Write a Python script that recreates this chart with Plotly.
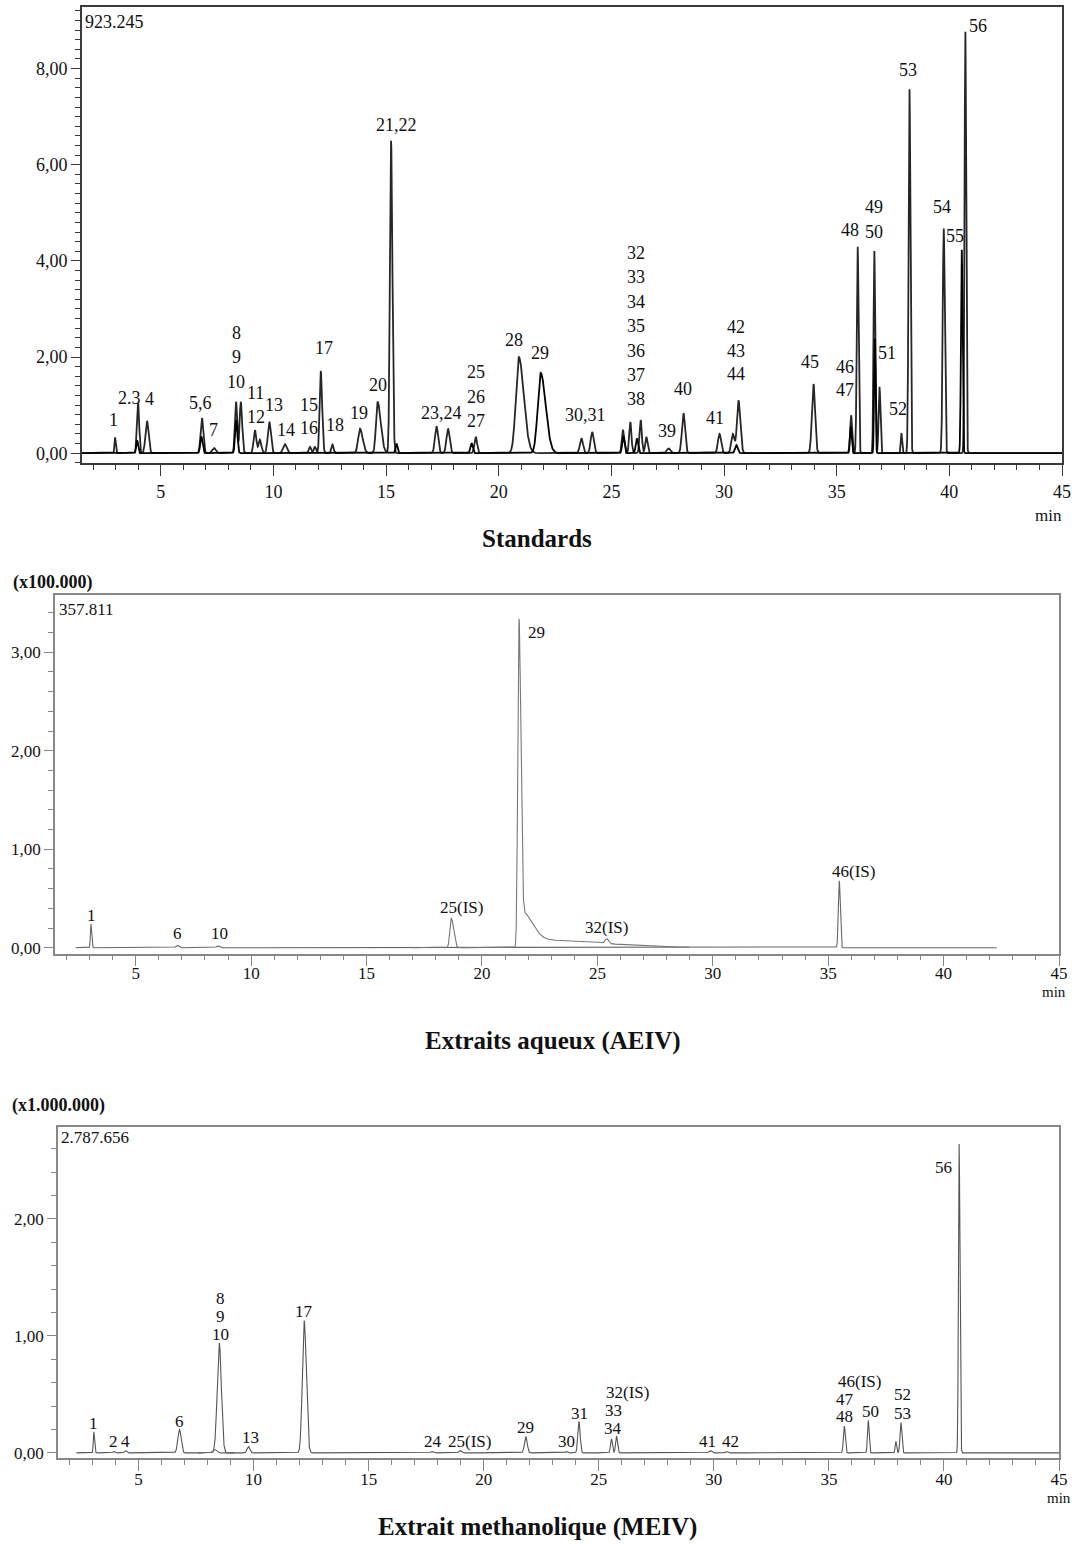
import numpy as np
import plotly.graph_objects as go

# Target picture size, and the figure size in page pixels
REF_W, REF_H = 1075, 1544
W, H = 1083, 1550

# ---------------- DATA ----------------
x_tick_vals = [5, 10, 15, 20, 25, 30, 35, 40, 45]

# Standards (x100.000): retention time (min), height, left/right width, trace id
std_rt = [2.97, 3.99, 3.95, 4.39, 6.83, 6.80, 7.36, 8.34, 8.55, 8.35, 9.18, 9.40, 9.82, 10.51,
          11.62, 11.84, 12.10, 12.62, 13.84, 14.62, 15.22, 15.46, 17.24, 17.75, 18.79, 18.98,
          20.89, 21.86, 23.67, 24.15, 25.51, 25.53, 25.84, 26.13, 26.30, 26.55, 27.54, 28.20,
          29.80, 30.39, 30.64, 30.55, 33.97, 35.64, 35.62, 35.93, 36.67, 36.69, 36.90, 37.87,
          38.23, 39.75, 40.55, 40.71]
std_h = [0.33, 1.05, 0.27, 0.67, 0.73, 0.35, 0.11, 1.07, 1.07, 0.69, 0.48, 0.28, 0.65, 0.19,
         0.13, 0.13, 1.71, 0.18, 0.51, 1.07, 6.50, 0.20, 0.56, 0.51, 0.21, 0.34,
         2.00, 1.67, 0.31, 0.44, 0.49, 0.35, 0.65, 0.31, 0.69, 0.34, 0.10, 0.83,
         0.40, 0.40, 1.10, 0.17, 1.44, 0.79, 0.55, 4.30, 4.21, 2.39, 1.38, 0.42,
         7.58, 4.68, 4.24, 8.78]
std_wl = [0.025, 0.05, 0.04, 0.07, 0.06, 0.05, 0.08, 0.05, 0.05, 0.05, 0.06, 0.06, 0.07, 0.08,
          0.05, 0.05, 0.05, 0.05, 0.08, 0.07, 0.05, 0.04, 0.07, 0.07, 0.05, 0.06,
          0.13, 0.13, 0.07, 0.07, 0.05, 0.05, 0.05, 0.05, 0.05, 0.05, 0.08, 0.07,
          0.07, 0.07, 0.07, 0.06, 0.07, 0.04, 0.04, 0.04, 0.035, 0.03, 0.04, 0.03,
          0.04, 0.045, 0.035, 0.035]
std_wr = [0.03, 0.05, 0.04, 0.07, 0.06, 0.05, 0.08, 0.05, 0.06, 0.05, 0.06, 0.06, 0.07, 0.08,
          0.05, 0.05, 0.06, 0.05, 0.12, 0.14, 0.06, 0.04, 0.07, 0.07, 0.05, 0.06,
          0.22, 0.22, 0.07, 0.07, 0.05, 0.05, 0.05, 0.05, 0.05, 0.05, 0.08, 0.07,
          0.07, 0.07, 0.08, 0.06, 0.07, 0.04, 0.04, 0.04, 0.035, 0.03, 0.04, 0.03,
          0.04, 0.045, 0.035, 0.035]
std_tr = [0, 0, 1, 0, 0, 1, 0, 0, 0, 1, 0, 0, 0, 0,
          0, 0, 0, 0, 0, 0, 0, 1, 0, 0, 1, 0,
          0, 1, 0, 0, 0, 1, 0, 1, 0, 0, 0, 0,
          0, 0, 0, 1, 0, 0, 1, 0, 0, 1, 0, 0,
          0, 0, 1, 0]

std_lbl = ["1", "2.3", "4", "5,6", "7", "8", "9", "10", "11", "12", "13", "14", "15", "16",
           "17", "18", "19", "20", "21,22", "23,24", "25", "26", "27", "28", "29", "30,31",
           "32", "33", "34", "35", "36", "37", "38", "39", "40", "41", "42", "43", "44",
           "45", "46", "47", "48", "49", "50", "51", "52", "53", "54", "55", "56"]
std_lbl_x = [2.88, 3.62, 4.50, 6.78, 7.36, 8.34, 8.34, 8.34, 9.22, 9.22, 10.02, 10.55, 11.57, 11.57,
             12.24, 12.73, 13.79, 14.63, 15.48, 17.47, 18.98, 18.98, 18.98, 20.67, 21.82, 23.86,
             26.10, 26.10, 26.10, 26.10, 26.10, 26.10, 26.10, 27.45, 28.16, 29.62, 30.55, 30.55, 30.55,
             33.82, 35.37, 35.37, 35.57, 36.64, 36.64, 37.25, 37.74, 38.15, 39.68, 40.27, 41.26]
std_lbl_y = [0.69, 1.15, 1.12, 1.04, 0.48, 2.50, 2.00, 1.48, 1.25, 0.75, 1.00, 0.48, 1.00, 0.52,
             2.19, 0.58, 0.83, 1.42, 6.83, 0.83, 1.69, 1.17, 0.67, 2.35, 2.08, 0.79,
             4.17, 3.67, 3.15, 2.65, 2.13, 1.63, 1.13, 0.46, 1.33, 0.73, 2.63, 2.13, 1.65,
             1.90, 1.80, 1.31, 4.65, 5.13, 4.61, 2.08, 0.92, 7.96, 5.12, 4.51, 8.88]

# Extraits aqueux AEIV (x100.000)
aq_rt = [3.06, 6.80, 8.56, 35.48, 18.67, 21.60, 21.70, 22.00, 25.41]
aq_h = [0.24, 0.025, 0.02, 0.68, 0.30, 3.25, 0.30, 0.08, 0.05]
aq_wl = [0.025, 0.06, 0.06, 0.04, 0.06, 0.05, 0.06, 0.20, 0.08]
aq_wr = [0.03, 0.06, 0.06, 0.04, 0.10, 0.08, 0.45, 3.00, 0.08]
aq_tr = [0, 0, 0, 0, 1, 1, 1, 1, 1]

aq_lbl = ["1", "6", "10", "25(IS)", "29", "32(IS)", "46(IS)"]
aq_lbl_x = [3.09, 6.80, 8.63, 19.10, 22.38, 25.41, 36.09]
aq_lbl_y = [0.325, 0.14, 0.14, 0.41, 3.20, 0.21, 0.77]

# Extrait methanolique MEIV (x1.000.000)
me_rt = [3.06, 3.93, 4.44, 6.78, 8.51, 8.30, 9.78, 12.20, 17.75, 18.97, 21.83, 23.60, 24.14,
         25.55, 25.77, 29.85, 30.54, 35.67, 35.58, 36.71, 37.91, 38.13, 40.66]
me_h = [0.18, 0.012, 0.02, 0.20, 0.94, 0.03, 0.054, 1.13, 0.012, 0.02, 0.14, 0.012, 0.27,
        0.12, 0.145, 0.02, 0.012, 0.23, 0.04, 0.28, 0.10, 0.26, 2.64]
me_wl = [0.025, 0.05, 0.05, 0.07, 0.09, 0.08, 0.06, 0.08, 0.06, 0.06, 0.06, 0.05, 0.05,
         0.04, 0.04, 0.06, 0.06, 0.04, 0.04, 0.035, 0.03, 0.04, 0.03]
me_wr = [0.03, 0.05, 0.05, 0.07, 0.09, 0.08, 0.06, 0.09, 0.06, 0.06, 0.06, 0.05, 0.05,
         0.04, 0.04, 0.06, 0.06, 0.04, 0.04, 0.035, 0.03, 0.04, 0.035]
me_tr = [0, 0, 0, 0, 0, 1, 0, 0, 0, 0, 0, 0, 0,
         0, 0, 0, 0, 0, 1, 0, 0, 0, 0]

me_lbl = ["1", "2", "4", "6", "8", "9", "10", "13", "17", "24", "25(IS)", "29", "30", "31",
          "32(IS)", "33", "34", "41", "42", "46(IS)", "47", "48", "50", "52", "53", "56"]
me_lbl_x = [3.06, 3.90, 4.44, 6.79, 8.57, 8.57, 8.57, 9.86, 12.20, 17.80, 19.40, 21.83, 23.60, 24.18,
            26.27, 25.62, 25.62, 29.74, 30.71, 36.32, 35.70, 35.70, 36.83, 38.20, 38.20, 39.97]
me_lbl_y = [0.25, 0.10, 0.10, 0.27, 1.32, 1.17, 1.01, 0.13, 1.21, 0.10, 0.10, 0.22, 0.10, 0.34,
            0.52, 0.36, 0.21, 0.10, 0.10, 0.61, 0.46, 0.31, 0.35, 0.50, 0.34, 2.44]


# ---------------- HELPERS ----------------
def chrom(x, rts, hs, wls, wrs):
    y = np.zeros_like(x)
    for rt, h, wl, wr in zip(rts, hs, wls, wrs):
        s = np.where(x < rt, wl, wr)
        y += h * np.exp(-0.5 * ((x - rt) / s) ** 2)
    return y


def sel(vals, trs, k):
    return [v for v, t in zip(vals, trs) if t == k]


def px_x(p):
    return p / REF_W


def px_y(p):
    return 1 - p / REF_H


FONT = "Liberation Serif, Times New Roman, serif"

fig = go.Figure()

# panel geometry (picture pixels)
panels = [
    dict(left=82, right=1063, top=7, bottom=463, yr=[-0.21, 9.28], lw=1.8,
         colors=["#262626", "#000000"], fs=18, tfs=18, lc="#3a3a3a", so=0),
    dict(left=55, right=1060, top=595, bottom=953, yr=[-0.06, 3.578], lw=1.1,
         colors=["#666666", "#777777"], fs=17, tfs=17, lc="#888888", so=-8),
    dict(left=58, right=1060, top=1126, bottom=1457, yr=[-0.043, 2.7877], lw=1.1,
         colors=["#555555", "#666666"], fs=17, tfs=17, lc="#888888", so=-6),
]

segments = [
    [(1.5, 45.0), (1.5, 45.0)],
    [(2.4, 42.3), (17.0, 29.0)],
    [(2.3, 45.0), (7.6, 9.2)],
]

datasets = [
    (std_rt, std_h, std_wl, std_wr, std_tr),
    (aq_rt, aq_h, aq_wl, aq_wr, aq_tr),
    (me_rt, me_h, me_wl, me_wr, me_tr),
]

labels = [
    (std_lbl, std_lbl_x, std_lbl_y),
    (aq_lbl, aq_lbl_x, aq_lbl_y),
    (me_lbl, me_lbl_x, me_lbl_y),
]

annotations = []
layout_axes = {}
for i, (pn, ds, seg, lb) in enumerate(zip(panels, datasets, segments, labels)):
    sfx = "" if i == 0 else str(i + 1)
    xref, yref = "x" + sfx, "y" + sfx
    rts, hs, wls, wrs, trs = ds
    for k in (0, 1):
        x0, x1 = seg[k]
        xs = np.arange(x0, x1, 0.004)
        ys = chrom(xs, sel(rts, trs, k), sel(hs, trs, k), sel(wls, trs, k), sel(wrs, trs, k))
        fig.add_trace(go.Scatter(x=xs, y=ys, mode="lines", xaxis=xref, yaxis=yref,
                                 line=dict(color=pn["colors"][k], width=pn["lw"]),
                                 hoverinfo="skip", showlegend=False))
    for t, lx, ly in zip(*lb):
        annotations.append(dict(text=t, x=lx, y=ly, xref=xref, yref=yref, showarrow=False,
                                xanchor="center", yanchor="middle",
                                font=dict(family=FONT, size=pn["fs"], color="#111111")))
    layout_axes["xaxis" + sfx] = dict(
        domain=[px_x(pn["left"]), px_x(pn["right"])], range=[1.5, 45.0],
        anchor=yref, tickvals=x_tick_vals, ticks="outside", ticklen=11, tickwidth=1.3,
        tickcolor=pn["lc"], showline=True, linecolor=pn["lc"], linewidth=1.6, mirror=True,
        showgrid=False, zeroline=False, ticklabelstandoff=pn["so"],
        minor=dict(dtick=1, tick0=0, ticks="outside", ticklen=5, tickcolor=pn["lc"], tickwidth=1.2),
        tickfont=dict(family=FONT, size=pn["tfs"], color="#111111"))
    layout_axes["yaxis" + sfx] = dict(
        domain=[px_y(pn["bottom"]), px_y(pn["top"])], range=pn["yr"],
        anchor=xref, dtick=2 if i == 0 else 1, tick0=0, tickformat=".2f",
        ticks="outside", ticklen=9, tickwidth=1.3, tickcolor=pn["lc"],
        showline=True, linecolor=pn["lc"], linewidth=1.6, mirror=True,
        showgrid=False, zeroline=False,
        minor=dict(dtick=0.2, tick0=0, ticks="outside", ticklen=5, tickcolor=pn["lc"], tickwidth=1.2),
        tickfont=dict(family=FONT, size=pn["tfs"], color="#111111"))


def txt(text, x, y, size, bold=False, xanchor="left", color="#111111"):
    t = "<b>" + text + "</b>" if bold else text
    annotations.append(dict(text=t, x=px_x(x), y=px_y(y), xref="paper", yref="paper",
                            showarrow=False, xanchor=xanchor, yanchor="middle",
                            font=dict(family=FONT, size=size, color=color)))


# header values / multipliers
txt("923.245", 83, 22, 18)
txt("(x100.000)", 11, 582, 18, bold=True)
txt("357.811", 57, 609, 17)
txt("(x1.000.000)", 10, 1105, 18, bold=True)
txt("2.787.656", 59, 1137, 17)

# min labels
txt("min", 1049, 515, 17, xanchor="center")
txt("min", 1055, 991, 15, xanchor="center")
txt("min", 1060, 1497, 15, xanchor="center")

# panel titles
txt("Standards", 538, 538, 25, bold=True, xanchor="center")
txt("Extraits aqueux (AEIV)", 554, 1040, 25, bold=True, xanchor="center")
txt("Extrait methanolique (MEIV)", 538, 1526, 25, bold=True, xanchor="center")

fig.update_layout(
    width=W, height=H, margin=dict(l=0, r=0, t=0, b=0),
    paper_bgcolor="white", plot_bgcolor="white",
    separators=",.", showlegend=False,
    annotations=annotations, **layout_axes)

fig.write_html(
    "out.html",
    config={"displayModeBar": False, "responsive": False},
    post_script=("document.body.style.margin='0px';"
                 "document.body.style.overflow='hidden';"
                 "document.documentElement.style.overflow='hidden';"))
